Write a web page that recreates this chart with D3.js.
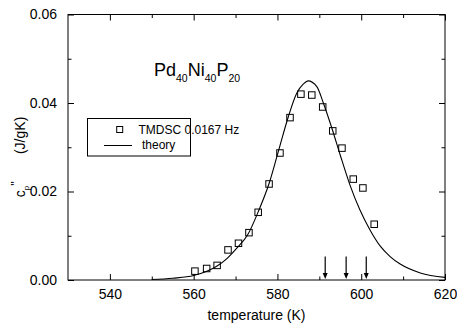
<!DOCTYPE html>
<html><head><meta charset="utf-8">
<script src="https://cdn.jsdelivr.net/npm/d3@7"></script>
<style>body{margin:0;background:#fff}svg{display:block}text{font-family:"Liberation Sans",Arial,sans-serif;fill:#000}</style>
</head><body><svg id="c" width="457" height="326"></svg>
<script>
const xTicks = [540, 560, 580, 600, 620];
const xMinor = [550, 570, 590, 610];
const yTicks = [0, 0.02, 0.04, 0.06];
const yMinor = [0.01, 0.03, 0.05];
const dataT = [560.3, 563.1, 565.6, 568.2, 570.7, 573.2, 575.4, 578.0, 580.6, 583.0, 585.6, 588.2, 590.8, 593.2, 595.4, 598.1, 600.4, 603.1];
const dataC = [0.0020, 0.0026, 0.0033, 0.0068, 0.0083, 0.0107, 0.0153, 0.0217, 0.0287, 0.0367, 0.0420, 0.0418, 0.0391, 0.0337, 0.0298, 0.0228, 0.0208, 0.0126];
const theoryT = [550, 555, 560, 563, 565.5, 568, 570.3, 573, 575.4, 578, 580.2, 582.6, 584.6, 586.2, 587.3, 589.4, 591, 593, 595, 597.3, 599.7, 602.1, 604.5, 606.9, 609.3, 614.1, 620];
const theoryC = [0.0001, 0.0004, 0.0010, 0.0019, 0.0031, 0.0049, 0.0072, 0.0104, 0.0154, 0.0218, 0.0290, 0.0369, 0.0422, 0.0443, 0.0450, 0.0437, 0.0399, 0.0343, 0.0282, 0.0215, 0.0158, 0.0113, 0.0077, 0.0053, 0.0036, 0.0016, 0.0006];
const arrowT = [591.4, 596.4, 601.2];
const legendLabels = ["TMDSC 0.0167 Hz", "theory"];

const svg = d3.select("#c");
const L = 68, R = 445, T = 14.5, B = 280;
const x = d3.scaleLinear().domain([530, 620]).range([L, R]);
const y = d3.scaleLinear().domain([0, 0.06]).range([B, T]);

svg.append("rect").attr("x", L).attr("y", T).attr("width", R - L).attr("height", B - T)
  .attr("fill", "none").attr("stroke", "#000").attr("stroke-width", 1);

const bx = svg.append("g").attr("transform", `translate(0,${B})`)
  .call(d3.axisBottom(x).tickValues(xTicks).tickSizeInner(-6).tickSizeOuter(0).tickPadding(9).tickFormat(d3.format("d")));
bx.append("g").call(d3.axisBottom(x).tickValues(xMinor).tickSize(-3.5).tickFormat(""));
const tx = svg.append("g").attr("transform", `translate(0,${T})`)
  .call(d3.axisTop(x).tickValues(xTicks).tickSize(-6).tickFormat(""));
tx.append("g").call(d3.axisTop(x).tickValues(xMinor).tickSize(-3.5).tickFormat(""));
const ly = svg.append("g").attr("transform", `translate(${L},0)`)
  .call(d3.axisLeft(y).tickValues(yTicks).tickSizeInner(-6).tickSizeOuter(0).tickPadding(11).tickFormat(d3.format(".2f")));
ly.append("g").call(d3.axisLeft(y).tickValues(yMinor).tickSize(-3.5).tickFormat(""));
const ry = svg.append("g").attr("transform", `translate(${R},0)`)
  .call(d3.axisRight(y).tickValues(yTicks).tickSize(-6).tickFormat(""));
ry.append("g").call(d3.axisRight(y).tickValues(yMinor).tickSize(-3.5).tickFormat(""));
svg.selectAll(".domain").remove();
svg.selectAll(".tick line").attr("stroke", "#000");
svg.selectAll(".tick text").attr("font-size", 14).attr("font-family", '"Liberation Sans",Arial,sans-serif').attr("fill", "#000");

const line = d3.line().x(d => x(d[0])).y(d => y(d[1])).curve(d3.curveMonotoneX);
svg.append("path").datum(theoryT.map((t, i) => [t, theoryC[i]]))
  .attr("d", line).attr("fill", "none").attr("stroke", "#000").attr("stroke-width", 1.1);

const s = 6.5;
svg.selectAll("rect.pt").data(dataT.map((t, i) => [t, dataC[i]])).enter().append("rect")
  .attr("class", "pt").attr("x", d => x(d[0]) - s / 2).attr("y", d => y(d[1]) - s / 2)
  .attr("width", s).attr("height", s).attr("fill", "none").attr("stroke", "#000").attr("stroke-width", 1);

arrowT.forEach(t => {
  const ax = x(t);
  svg.append("line").attr("x1", ax).attr("x2", ax).attr("y1", y(0.0053)).attr("y2", B - 5)
    .attr("stroke", "#000").attr("stroke-width", 1.2);
  svg.append("path").attr("d", `M${ax - 2.5},${B - 7}L${ax + 2.5},${B - 7}L${ax},${B - 1}Z`).attr("fill", "#000");
});

svg.append("rect").attr("x", 87.5).attr("y", 118.5).attr("width", 103).attr("height", 37.5)
  .attr("fill", "#fff").attr("stroke", "#000").attr("stroke-width", 1);
svg.append("rect").attr("x", 119.7 - 3).attr("y", 129.5 - 3).attr("width", 6).attr("height", 6)
  .attr("fill", "none").attr("stroke", "#000");
svg.append("text").attr("x", 138.5).attr("y", 134).attr("font-size", 12).text(legendLabels[0]);
svg.append("line").attr("x1", 104).attr("x2", 132).attr("y1", 145.5).attr("y2", 145.5).attr("stroke", "#000");
svg.append("text").attr("x", 142).attr("y", 149).attr("font-size", 12).text(legendLabels[1]);

const title = svg.append("text").attr("x", 154).attr("y", 76).attr("font-size", 18);
[["Pd", 0], ["40", 1], ["Ni", 0], ["40", 1], ["P", 0], ["20", 1]].forEach(([t, sub], i) => {
  title.append("tspan").text(t).attr("font-size", sub ? 10.5 : 18).attr("dy", i === 0 ? 0 : (sub ? 6 : -6));
});

svg.append("text").attr("x", (L + R) / 2).attr("y", 320).attr("text-anchor", "middle").attr("font-size", 14).text("temperature (K)");
const yl = svg.append("text").attr("transform", "translate(25,157) rotate(-90)").attr("text-anchor", "middle").attr("font-size", 14);
yl.append("tspan").text("c");
yl.append("tspan").text("p").attr("font-size", 8).attr("dy", 4);
yl.append("tspan").text("''").attr("font-size", 12).attr("dy", -9);
yl.append("tspan").text("\u00a0\u00a0\u00a0\u00a0\u00a0\u00a0\u00a0(J/gK)").attr("dy", 5);
</script></body></html>
